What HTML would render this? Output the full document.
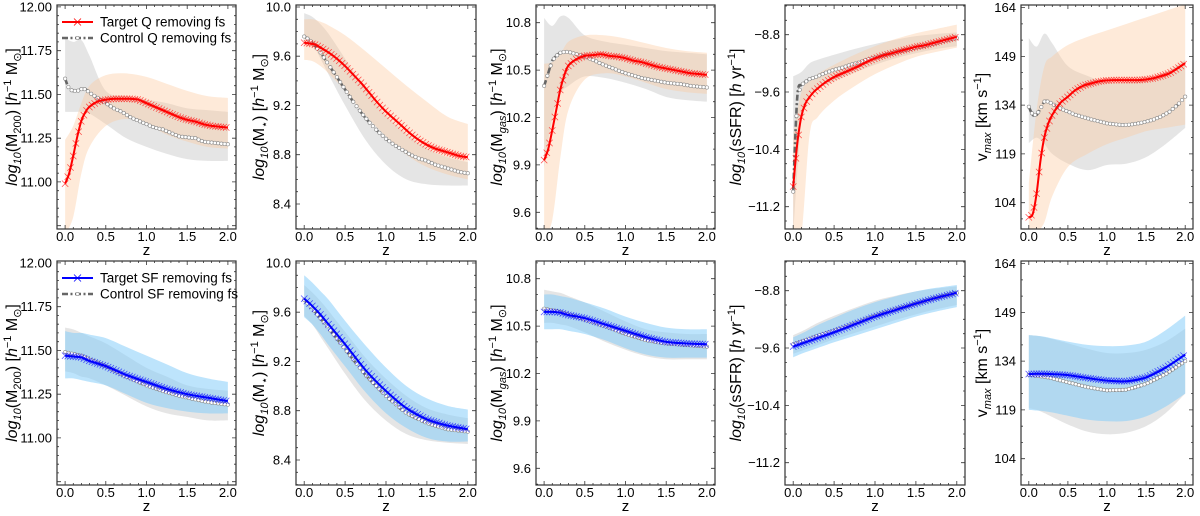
<!DOCTYPE html>
<html><head><meta charset="utf-8"><style>
body{margin:0;background:#fff;}
svg{display:block;font-family:"Liberation Sans","DejaVu Sans",sans-serif;}
</style></head><body>
<svg id="fig" width="1200" height="516" viewBox="0 0 1200 516" xmlns="http://www.w3.org/2000/svg"></svg>
<script>
// ---------- data ----------
const zBand = [0,0.1,0.2,0.3,0.5,0.75,1.0,1.25,1.5,1.75,2.0];
const zFine = [0,0.05,0.1,0.15,0.2,0.25,0.3,0.4,0.5,0.6,0.7,0.8,0.9,1.0,1.1,1.2,1.3,1.4,1.5,1.6,1.7,1.8,1.9,2.0];
const zTickLabels = ["0.0","0.5","1.0","1.5","2.0"];
const zTicks = [0,0.5,1.0,1.5,2.0];

// Panel 1 M200
const m200Ticks = [11.0,11.25,11.5,11.75,12.0];
const m200TickLabels = ["11.00","11.25","11.50","11.75","12.00"];
const m200QTarget = [10.99,11.05,11.15,11.26,11.35,11.40,11.43,11.46,11.47,11.475,11.475,11.475,11.47,11.45,11.43,11.41,11.39,11.37,11.355,11.345,11.33,11.32,11.315,11.31];
const m200QControl = [11.59,11.53,11.52,11.52,11.53,11.53,11.51,11.48,11.45,11.42,11.40,11.37,11.35,11.33,11.31,11.30,11.28,11.26,11.255,11.25,11.23,11.225,11.22,11.215];
const m200QTargetHi = [11.24,11.32,11.45,11.55,11.61,11.62,11.60,11.56,11.52,11.49,11.48];
const m200QTargetLo = [10.70,10.80,11.05,11.20,11.32,11.36,11.33,11.27,11.23,11.20,11.19];
const m200QControlHi = [11.82,11.80,11.81,11.72,11.52,11.49,11.47,11.45,11.42,11.41,11.40];
const m200QControlLo = [11.40,11.40,11.40,11.39,11.33,11.25,11.20,11.16,11.13,11.12,11.12];
const m200SFTarget = [11.47,11.465,11.46,11.44,11.41,11.36,11.32,11.28,11.25,11.23,11.21];
const m200SFControl = [11.49,11.48,11.47,11.45,11.41,11.35,11.30,11.26,11.23,11.205,11.19];
const m200SFTargetHi = [11.61,11.60,11.60,11.59,11.57,11.52,11.47,11.42,11.37,11.34,11.32];
const m200SFTargetLo = [11.34,11.34,11.33,11.32,11.30,11.25,11.20,11.17,11.15,11.14,11.14];
const m200SFControlHi = [11.63,11.62,11.60,11.58,11.54,11.47,11.40,11.35,11.30,11.28,11.27];
const m200SFControlLo = [11.38,11.37,11.35,11.34,11.30,11.24,11.18,11.14,11.12,11.10,11.10];

// Panel 2 M*
const mstarTicks = [8.4,8.8,9.2,9.6,10.0];
const mstarTickLabels = ["8.4","8.8","9.2","9.6","10.0"];
const mstarQTarget = [9.71,9.705,9.70,9.69,9.67,9.65,9.63,9.58,9.52,9.45,9.38,9.30,9.22,9.15,9.09,9.03,8.97,8.92,8.88,8.85,8.83,8.81,8.79,8.78];
const mstarQControl = [9.76,9.74,9.71,9.67,9.63,9.58,9.53,9.43,9.33,9.23,9.14,9.06,8.99,8.93,8.88,8.84,8.80,8.77,8.75,8.72,8.70,8.68,8.66,8.65];
const mstarQTargetHi = [9.90,9.90,9.88,9.85,9.77,9.64,9.50,9.36,9.23,9.11,9.05];
const mstarQTargetLo = [9.57,9.56,9.52,9.46,9.32,9.12,8.95,8.80,8.70,8.64,8.60];
const mstarQControlHi = [9.95,9.92,9.86,9.78,9.58,9.33,9.12,8.97,8.85,8.78,8.74];
const mstarQControlLo = [9.77,9.70,9.58,9.45,9.20,8.92,8.72,8.60,8.56,8.55,8.55];
const mstarSFTarget = [9.71,9.65,9.58,9.50,9.34,9.13,8.96,8.82,8.73,8.68,8.65];
const mstarSFControl = [9.70,9.63,9.55,9.47,9.30,9.09,8.92,8.78,8.70,8.65,8.63];
const mstarSFTargetHi = [9.90,9.84,9.77,9.70,9.53,9.33,9.15,9.00,8.90,8.84,8.81];
const mstarSFTargetLo = [9.56,9.50,9.42,9.33,9.16,8.95,8.78,8.66,8.58,8.55,8.55];
const mstarSFControlHi = [9.82,9.76,9.69,9.61,9.44,9.23,9.06,8.92,8.82,8.77,8.74];
const mstarSFControlLo = [9.57,9.50,9.40,9.30,9.10,8.88,8.72,8.61,8.56,8.54,8.53];

// Panel 3 Mgas
const mgasTicks = [9.6,9.9,10.2,10.5,10.8];
const mgasTickLabels = ["9.6","9.9","10.2","10.5","10.8"];
const mgasQTarget = [9.93,10.0,10.12,10.25,10.38,10.47,10.53,10.57,10.59,10.595,10.60,10.59,10.585,10.575,10.56,10.55,10.535,10.52,10.51,10.50,10.49,10.48,10.475,10.47];
const mgasQControl = [10.40,10.48,10.56,10.59,10.61,10.615,10.615,10.60,10.585,10.565,10.54,10.52,10.50,10.48,10.465,10.45,10.44,10.43,10.42,10.415,10.41,10.40,10.395,10.39];
const mgasQTargetHi = [10.54,10.55,10.60,10.68,10.72,10.72,10.70,10.67,10.64,10.62,10.61];
const mgasQTargetLo = [9.45,9.55,9.95,10.25,10.44,10.48,10.46,10.42,10.38,10.36,10.35];
const mgasQControlHi = [10.83,10.78,10.84,10.83,10.72,10.68,10.66,10.64,10.62,10.61,10.60];
const mgasQControlLo = [9.88,10.20,10.35,10.40,10.46,10.45,10.42,10.38,10.33,10.31,10.30];
const mgasSFTarget = [10.59,10.59,10.585,10.57,10.55,10.51,10.47,10.43,10.40,10.39,10.385];
const mgasSFControl = [10.61,10.60,10.59,10.575,10.54,10.50,10.45,10.41,10.39,10.38,10.37];
const mgasSFTargetHi = [10.70,10.70,10.69,10.68,10.65,10.61,10.56,10.52,10.49,10.48,10.48];
const mgasSFTargetLo = [10.48,10.48,10.48,10.47,10.45,10.41,10.36,10.32,10.30,10.30,10.30];
const mgasSFControlHi = [10.73,10.72,10.71,10.69,10.65,10.59,10.53,10.48,10.46,10.45,10.45];
const mgasSFControlLo = [10.52,10.52,10.51,10.50,10.46,10.40,10.35,10.31,10.29,10.29,10.29];

// Panel 4 sSFR
const ssfrTicks = [-11.2,-10.4,-9.6,-8.8];
const ssfrTickLabels = ["\u221211.2","\u221210.4","\u22129.6","\u22128.8"];
const ssfrQTarget = [-10.92,-10.32,-9.94,-9.76,-9.67,-9.60,-9.55,-9.46,-9.39,-9.34,-9.29,-9.24,-9.18,-9.13,-9.09,-9.06,-9.03,-9.00,-8.97,-8.95,-8.92,-8.89,-8.86,-8.83];
const ssfrQControl = [-10.99,-9.67,-9.50,-9.46,-9.42,-9.40,-9.38,-9.33,-9.29,-9.26,-9.22,-9.19,-9.15,-9.12,-9.09,-9.06,-9.03,-9.01,-8.98,-8.96,-8.93,-8.90,-8.87,-8.85];
const ssfrQTargetHi = [-10.2,-9.6,-9.45,-9.35,-9.22,-9.08,-8.96,-8.86,-8.78,-8.72,-8.66];
const ssfrQTargetLo = [-11.6,-11.6,-10.2,-9.95,-9.72,-9.52,-9.35,-9.22,-9.11,-9.04,-8.98];
const ssfrQControlHi = [-9.38,-9.32,-9.20,-9.15,-9.08,-9.00,-8.93,-8.87,-8.82,-8.79,-8.77];
const ssfrQControlLo = [-11.6,-10.0,-9.65,-9.55,-9.45,-9.33,-9.22,-9.13,-9.06,-9.00,-8.96];
const ssfrSFTarget = [-9.58,-9.54,-9.50,-9.46,-9.38,-9.27,-9.16,-9.07,-8.98,-8.90,-8.83];
const ssfrSFControl = [-9.55,-9.51,-9.47,-9.43,-9.36,-9.26,-9.15,-9.06,-8.98,-8.90,-8.83];
const ssfrSFTargetHi = [-9.45,-9.40,-9.34,-9.28,-9.18,-9.06,-8.96,-8.88,-8.81,-8.76,-8.72];
const ssfrSFTargetLo = [-9.73,-9.68,-9.64,-9.60,-9.52,-9.43,-9.34,-9.25,-9.16,-9.09,-9.03];
const ssfrSFControlHi = [-9.42,-9.37,-9.31,-9.25,-9.15,-9.04,-8.94,-8.87,-8.81,-8.77,-8.74];
const ssfrSFControlLo = [-9.68,-9.64,-9.60,-9.56,-9.48,-9.39,-9.30,-9.21,-9.13,-9.06,-9.00];

// Panel 5 vmax
const vmaxTicks = [104,119,134,149,164];
const vmaxTickLabels = ["104","119","134","149","164"];
const vmaxQTarget = [99.5,100.5,106.9,117.1,124.3,128.4,131,134.6,136.6,138.7,140,140.7,141.3,141.6,141.7,141.7,141.7,141.7,141.9,142.3,143,143.8,145.3,146.9];
const vmaxQControl = [133.5,131,131,133,135.1,135.1,134.4,133,132,131,130.3,129.6,129,128.4,128.1,127.9,128,128.4,128.9,129.6,130.6,132,134,136.6];
const vmaxQTargetHi = [110,132.5,146,149,152.5,155,157,159,161,163,165];
const vmaxQTargetLo = [95,95,98,106,115,119,122,124,126,127,128];
const vmaxQControlHi = [154.6,152,156,153,146,143,141,141,142,144,148];
const vmaxQControlLo = [122.3,124,122,119,116,114,115.6,116,118,122,127];
const vmaxSFTarget = [130,130.1,130.1,130,129.7,128.8,128,127.8,129,132,136];
const vmaxSFControl = [129.8,129.5,129.2,128.7,127.5,126,125,125.2,127,130,134];
const vmaxSFTargetHi = [142,141.8,141.5,141,140,139,138.6,138.8,140,143.5,148];
const vmaxSFTargetLo = [119,118.8,118.6,118.2,117.2,116,115.5,115.6,117,120,124];
const vmaxSFControlHi = [142,141.8,141.4,140.8,139.5,137.8,136.5,136.5,137.5,140,144];
const vmaxSFControlLo = [119.5,119,118,116.8,114.5,112.3,111.5,112,114,118,124];

// ---------- drawing ----------
const NS = "http://www.w3.org/2000/svg";
const fig = document.getElementById("fig");
function mk(tag, attrs, parent){
  const e = document.createElementNS(NS, tag);
  for (const k in attrs) e.setAttribute(k, attrs[k]);
  (parent||fig).appendChild(e);
  return e;
}
const colLefts = [57,296,536,785,1021];
const colWidths = [179,180,179,180,172];
const rowTops = [5,261];
const boxH = 224;
const xlim = [-0.1,2.1];

const panels = [
  {key:"m200", ylim:[10.731,12.011], ticks:m200Ticks, labels:m200TickLabels, minor:5, ylab:'<tspan font-style="italic">log</tspan><tspan font-style="italic" font-size="11" dy="4">10</tspan><tspan dy="-4">(M</tspan><tspan font-size="11" dy="4">200</tspan><tspan dy="-4">) [</tspan><tspan font-style="italic">h</tspan><tspan font-size="11" dy="-6">−1</tspan><tspan dy="6"> M</tspan><tspan font-size="11" dy="4">⊙</tspan><tspan dy="-4">]</tspan>', labOff:44,
   q:[zFine,m200QTarget,m200QControl,m200QTargetHi,m200QTargetLo,m200QControlHi,m200QControlLo],
   sf:[zBand,m200SFTarget,m200SFControl,m200SFTargetHi,m200SFTargetLo,m200SFControlHi,m200SFControlLo]},
  {key:"mstar", ylim:[8.197,10.016], ticks:mstarTicks, labels:mstarTickLabels, minor:4, ylab:'<tspan font-style="italic">log</tspan><tspan font-style="italic" font-size="11" dy="4">10</tspan><tspan dy="-4">(M</tspan><tspan font-size="11" dy="4">⋆</tspan><tspan dy="-4">) [</tspan><tspan font-style="italic">h</tspan><tspan font-size="11" dy="-6">−1</tspan><tspan dy="6"> M</tspan><tspan font-size="11" dy="4">⊙</tspan><tspan dy="-4">]</tspan>', labOff:36,
   q:[zFine,mstarQTarget,mstarQControl,mstarQTargetHi,mstarQTargetLo,mstarQControlHi,mstarQControlLo],
   sf:[zBand,mstarSFTarget,mstarSFControl,mstarSFTargetHi,mstarSFTargetLo,mstarSFControlHi,mstarSFControlLo]},
  {key:"mgas", ylim:[9.494,10.912], ticks:mgasTicks, labels:mgasTickLabels, minor:3, ylab:'<tspan font-style="italic">log</tspan><tspan font-style="italic" font-size="11" dy="4">10</tspan><tspan dy="-4">(M</tspan><tspan font-size="11" font-style="italic" dy="4">gas</tspan><tspan dy="-4">) [</tspan><tspan font-style="italic">h</tspan><tspan font-size="11" dy="-6">−1</tspan><tspan dy="6"> M</tspan><tspan font-size="11" dy="4">⊙</tspan><tspan dy="-4">]</tspan>', labOff:38,
   q:[zFine,mgasQTarget,mgasQControl,mgasQTargetHi,mgasQTargetLo,mgasQControlHi,mgasQControlLo],
   sf:[zBand,mgasSFTarget,mgasSFControl,mgasSFTargetHi,mgasSFTargetLo,mgasSFControlHi,mgasSFControlLo]},
  {key:"ssfr", ylim:[-11.511,-8.386], ticks:ssfrTicks, labels:ssfrTickLabels, minor:4, ylab:'<tspan font-style="italic">log</tspan><tspan font-style="italic" font-size="11" dy="4">10</tspan><tspan dy="-4">(sSFR) [</tspan><tspan font-style="italic">h</tspan><tspan> yr</tspan><tspan font-size="11" dy="-6">−1</tspan><tspan dy="6">]</tspan>', labOff:48,
   q:[zFine,ssfrQTarget,ssfrQControl,ssfrQTargetHi,ssfrQTargetLo,ssfrQControlHi,ssfrQControlLo],
   sf:[zBand,ssfrSFTarget,ssfrSFControl,ssfrSFTargetHi,ssfrSFTargetLo,ssfrSFControlHi,ssfrSFControlLo]},
  {key:"vmax", ylim:[95.9,164.8], ticks:vmaxTicks, labels:vmaxTickLabels, minor:3, ylab:'<tspan>v</tspan><tspan font-size="11" font-style="italic" dy="4">max</tspan><tspan dy="-4"> [km s</tspan><tspan font-size="11" dy="-6">−1</tspan><tspan dy="6">]</tspan>', labOff:38,
   q:[zFine,vmaxQTarget,vmaxQControl,vmaxQTargetHi,vmaxQTargetLo,vmaxQControlHi,vmaxQControlLo],
   sf:[zBand,vmaxSFTarget,vmaxSFControl,vmaxSFTargetHi,vmaxSFTargetLo,vmaxSFControlHi,vmaxSFControlLo]}
];

function smoothPath(pts){
  let d = "M"+pts[0][0].toFixed(2)+","+pts[0][1].toFixed(2);
  for (let i=0;i<pts.length-1;i++){
    const p0=pts[Math.max(0,i-1)], p1=pts[i], p2=pts[i+1], p3=pts[Math.min(pts.length-1,i+2)];
    const c1=[p1[0]+(p2[0]-p0[0])/6, p1[1]+(p2[1]-p0[1])/6];
    const c2=[p2[0]-(p3[0]-p1[0])/6, p2[1]-(p3[1]-p1[1])/6];
    d += "C"+c1[0].toFixed(2)+","+c1[1].toFixed(2)+" "+c2[0].toFixed(2)+","+c2[1].toFixed(2)+" "+p2[0].toFixed(2)+","+p2[1].toFixed(2);
  }
  return d;
}
function interp(zs, vs, z){
  for (let i=0;i<zs.length-1;i++){
    if (z<=zs[i+1]){ const t=(z-zs[i])/(zs[i+1]-zs[i]); return vs[i]+t*(vs[i+1]-vs[i]); }
  }
  return vs[vs.length-1];
}

panels.forEach((p, ci) => {
  [0,1].forEach(ri => {
    const L = colLefts[ci], W = colWidths[ci], T = rowTops[ri], B = T+boxH;
    const sx = z => L + (z - xlim[0])/(xlim[1]-xlim[0])*W;
    const sy = v => B - (v - p.ylim[0])/(p.ylim[1]-p.ylim[0])*boxH;
    const rowName = ri===0 ? "quenched" : "starforming";
    const g = mk("g", {}, fig);
    
    
    const cid = "clip-"+p.key+"-"+ri;
    const cp = mk("clipPath",{id:cid}, g);
    mk("rect",{x:L,y:T,width:W,height:boxH}, cp);
    const plot = mk("g",{"clip-path":"url(#"+cid+")"}, g);
    const s = ri===0 ? p.q : p.sf;
    const zs = s[0];
    const zb = zBand;
    const targetCol = ri===0 ? "#ff0000" : "#0000ff";
    const bandCol = ri===0 ? "#fcc99a" : "#87cefa";
    const bandOp = ri===0 ? 0.38 : 0.55;
    function band(hi, lo, color, op, name){
      const up = zb.map((z,i)=>[sx(z),sy(hi[i])]);
      const dn = zb.map((z,i)=>[sx(z),sy(lo[i])]).reverse();
      const d = smoothPath(up) + smoothPath(dn).replace("M","L") + "Z";
      const e = mk("path",{d:d, fill:color, "fill-opacity":op, stroke:"none"}, plot);
      
      
    }
    band(s[5], s[6], "#bdbdbd", 0.4, "control-band");
    band(s[3], s[4], bandCol, bandOp, "target-band");
    const cpts = zs.map((z,i)=>[sx(z),sy(s[2][i])]);
    const cl = mk("path",{d:smoothPath(cpts), fill:"none", stroke:"#666", "stroke-width":2.6, "stroke-dasharray":"6,2.5,2,2.5"}, plot);
    
    
    for (let z=0; z<=2.001; z+=0.04){
      const m = mk("circle",{cx:sx(z), cy:sy(interp(zs,s[2],z)), r:1.7, fill:"#fff", stroke:"#888", "stroke-width":0.6}, plot);
      
      
    }
    const tpts = zs.map((z,i)=>[sx(z),sy(s[1][i])]);
    const tl = mk("path",{d:smoothPath(tpts), fill:"none", stroke:targetCol, "stroke-width":2}, plot);
    
    
    let md = "";
    for (let z=0; z<=2.001; z+=0.033){
      const x=sx(z), y=sy(interp(zs,s[1],z)), r=3.2;
      md += "M"+(x-r).toFixed(1)+","+(y-r).toFixed(1)+"L"+(x+r).toFixed(1)+","+(y+r).toFixed(1)+"M"+(x-r).toFixed(1)+","+(y+r).toFixed(1)+"L"+(x+r).toFixed(1)+","+(y-r).toFixed(1);
    }
    const mm = mk("path",{d:md, stroke:targetCol, "stroke-width":0.7, "stroke-opacity":0.7, fill:"none"}, plot);
    
    
    const fr = mk("rect",{x:L,y:T,width:W,height:boxH,fill:"none",stroke:"#333","stroke-width":1.2}, g);
    
    
    let td = "";
    for (let z=-0.1; z<=2.1001; z+=0.1){
      const x=sx(z); const major = Math.abs(z*2-Math.round(z*2))<1e-6; const len = major?4:2;
      td += "M"+x.toFixed(1)+","+B+"v-"+len+"M"+x.toFixed(1)+","+T+"v"+len;
    }
    const step = (p.ticks[1]-p.ticks[0])/p.minor;
    for (let v=p.ticks[0]-step*p.minor*2; v<=p.ylim[1]; v+=step){
      if (v<p.ylim[0]) continue;
      const y=sy(v); const k=Math.round((v-p.ticks[0])/step); const major = k%p.minor===0; const len=major?4:2;
      td += "M"+L+","+y.toFixed(1)+"h"+len+"M"+(L+W)+","+y.toFixed(1)+"h-"+len;
    }
    mk("path",{d:td, stroke:"#333","stroke-width":0.8, fill:"none"}, g);
    zTicks.forEach((z,i)=>{
      const t = mk("text",{x:sx(z), y:B+12, "font-size":13, "text-anchor":"middle", fill:"#000"}, g);
      t.textContent = zTickLabels[i];
      
      
    });
    p.ticks.forEach((v,i)=>{
      const t = mk("text",{x:L-5, y:sy(v)+4.5, "font-size":13, "text-anchor":"end", fill:"#000"}, g);
      t.textContent = p.labels[i];
      
      
    });
    const xt = mk("text",{x:L+W/2, y:B+26, "font-size":15, "text-anchor":"middle"}, g);
    xt.textContent = "z";
    
    
    const yt = mk("text",{x:0,y:0,"font-size":16,"text-anchor":"middle", transform:"translate("+(L-p.labOff+4)+","+(T+boxH/2)+") rotate(-90)"}, g);
    yt.innerHTML = p.ylab;
    
    
    if (ci===0){
      const lg = mk("g",{}, g);
      
      
      const tname = ri===0 ? "Target Q removing fs" : "Target SF removing fs";
      const cname = ri===0 ? "Control Q removing fs" : "Control SF removing fs";
      const y1 = T+17, y2 = T+33;
      mk("path",{d:"M62,"+y1+"h31", stroke:targetCol,"stroke-width":2}, lg);
      mk("path",{d:"M74,"+(y1-3.5)+"l7,7M74,"+(y1+3.5)+"l7,-7", stroke:targetCol,"stroke-width":0.8}, lg);
      mk("path",{d:"M62,"+y2+"h31", stroke:"#666","stroke-width":2.6,"stroke-dasharray":"6,2.5,2,2.5"}, lg);
      mk("circle",{cx:77.5,cy:y2,r:1.7,fill:"#fff",stroke:"#888","stroke-width":0.6}, lg);
      const a = mk("text",{x:100,y:y1+4.5,"font-size":13.5}, lg);
      a.textContent = tname;
      
      
      const b = mk("text",{x:100,y:y2+4.5,"font-size":13.5}, lg);
      b.textContent = cname;
      
      
    }
  });
});
</script>
</body></html>
